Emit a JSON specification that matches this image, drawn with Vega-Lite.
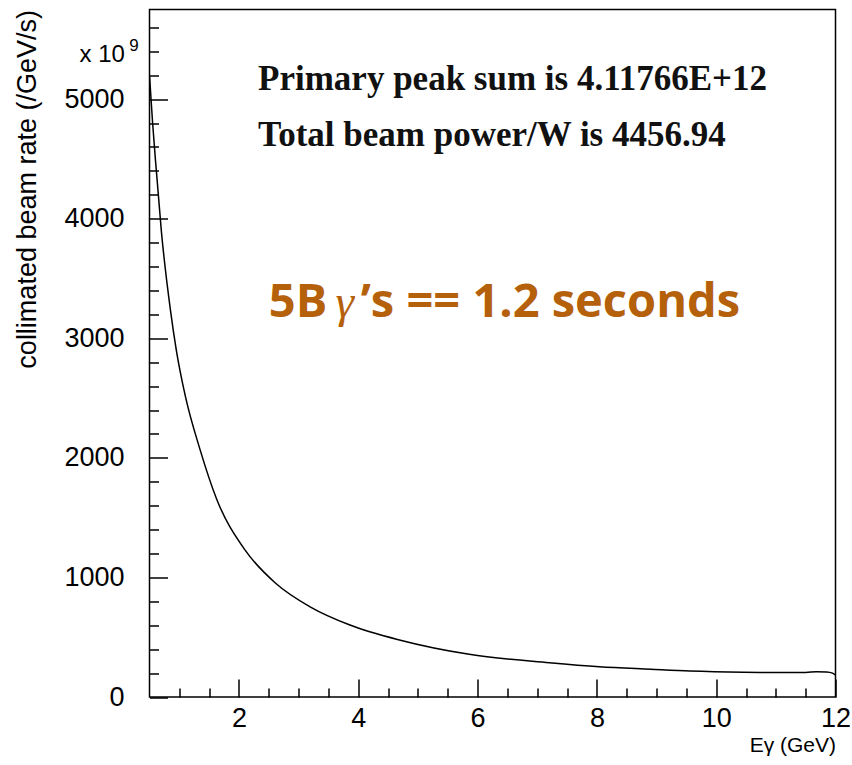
{
  "$schema": "https://vega.github.io/schema/vega-lite/v6.json",
  "autosize": "none",
  "width": 686,
  "height": 687.5,
  "padding": {"left": 149.5, "top": 9.5, "right": 16.5, "bottom": 68},
  "background": "white",
  "config": {
    "view": {"stroke": "black", "strokeWidth": 1.5},
    "font": "Liberation Sans",
    "axis": {"domain": false, "grid": false, "tickColor": "black", "tickWidth": 1.5, "labelColor": "black", "titleColor": "black", "labelFont": "Liberation Sans", "titleFont": "Liberation Sans", "titleFontWeight": "normal", "labelOverlap": false}
  },
  "layer": [
    {
      "data": {"values": [
        {"E": 0.5, "rate": 5200}, {"E": 0.55, "rate": 4815}, {"E": 0.6, "rate": 4490}, {"E": 0.7, "rate": 3890},
        {"E": 0.85, "rate": 3240}, {"E": 0.95, "rate": 2900}, {"E": 1.1, "rate": 2518}, {"E": 1.35, "rate": 2065},
        {"E": 1.63, "rate": 1650}, {"E": 2.1, "rate": 1230}, {"E": 2.6, "rate": 958}, {"E": 3.2, "rate": 752},
        {"E": 3.86, "rate": 602}, {"E": 4.69, "rate": 477}, {"E": 5.86, "rate": 357}, {"E": 7.2, "rate": 287},
        {"E": 8.04, "rate": 253}, {"E": 8.9, "rate": 232}, {"E": 9.56, "rate": 217}, {"E": 10.46, "rate": 207},
        {"E": 11.0, "rate": 205}, {"E": 11.5, "rate": 205}, {"E": 11.68, "rate": 212}, {"E": 11.85, "rate": 210},
        {"E": 11.95, "rate": 200}, {"E": 12.0, "rate": 184}
      ]},
      "mark": {"type": "line", "color": "black", "strokeWidth": 1.5, "interpolate": "monotone", "clip": true},
      "encoding": {
        "x": {"field": "E", "type": "quantitative",
          "scale": {"domain": [0.5, 12], "nice": false, "zero": false},
          "axis": {
            "values": [1, 1.5, 2, 2.5, 3, 3.5, 4, 4.5, 5, 5.5, 6, 6.5, 7, 7.5, 8, 8.5, 9, 9.5, 10, 10.5, 11, 11.5, 12],
            "tickCount": 100,
            "tickSize": {"condition": {"test": "datum.value % 2 === 0", "value": -18}, "value": -9},
            "labelFontSize": {"condition": {"test": "datum.value % 2 === 0", "value": 27}, "value": 0},
            "labelExpr": "datum.value % 2 === 0 ? format(datum.value, 'd') : ''",
            "labelOverlap": false,
            "labelPadding": 26, "labelFlush": false,
            "title": "Eγ (GeV)", "titleAnchor": "end", "titleFontSize": 21, "titlePadding": 3
          }
        },
        "y": {"field": "rate", "type": "quantitative",
          "scale": {"domain": [0, 5750], "nice": false, "zero": false},
          "axis": {
            "values": [0, 200, 400, 600, 800, 1000, 1200, 1400, 1600, 1800, 2000, 2200, 2400, 2600, 2800, 3000, 3200, 3400, 3600, 3800, 4000, 4200, 4400, 4600, 4800, 5000, 5200, 5400, 5600],
            "tickCount": 100,
            "tickSize": {"condition": {"test": "datum.value % 1000 === 0", "value": -18}, "value": -9},
            "labelFontSize": {"condition": {"test": "datum.value % 1000 === 0", "value": 27}, "value": 0},
            "labelExpr": "datum.value % 1000 === 0 ? format(datum.value, 'd') : ''",
            "labelOverlap": false,
            "labelPadding": 43.5,
            "title": "collimated beam rate (/GeV/s)", "titleAnchor": "end", "titleFontSize": 27, "titlePadding": 22
          }
        }
      }
    },
    {
      "data": {"values": [{"label": "Primary peak sum is 4.11766E+12"}]},
      "mark": {"type": "text", "align": "left", "baseline": "alphabetic", "font": "Liberation Serif", "fontWeight": "bold", "fontSize": 35, "color": "#111111"},
      "encoding": {"x": {"datum": 2.32, "type": "quantitative"}, "y": {"datum": 5076, "type": "quantitative"}, "text": {"field": "label"}}
    },
    {
      "data": {"values": [{"label": "Total beam power/W is 4456.94"}]},
      "mark": {"type": "text", "align": "left", "baseline": "alphabetic", "font": "Liberation Serif", "fontWeight": "bold", "fontSize": 35, "color": "#111111"},
      "encoding": {"x": {"datum": 2.32, "type": "quantitative"}, "y": {"datum": 4608, "type": "quantitative"}, "text": {"field": "label"}}
    },
    {
      "data": {"values": [{"label": "5B"}]},
      "mark": {"type": "text", "align": "left", "baseline": "alphabetic", "font": "Open Sans", "fontWeight": "bold", "fontSize": 47, "color": "#B5600A"},
      "encoding": {"x": {"datum": 2.5, "type": "quantitative"}, "y": {"datum": 3178, "type": "quantitative"}, "text": {"field": "label"}}
    },
    {
      "data": {"values": [{"label": "γ"}]},
      "mark": {"type": "text", "align": "left", "baseline": "alphabetic", "font": "Liberation Serif", "fontStyle": "italic", "fontSize": 47, "color": "#B5600A"},
      "encoding": {"x": {"datum": 3.62, "type": "quantitative"}, "y": {"datum": 3178, "type": "quantitative"}, "text": {"field": "label"}}
    },
    {
      "data": {"values": [{"label": "’s == 1.2 seconds"}]},
      "mark": {"type": "text", "align": "left", "baseline": "alphabetic", "font": "Open Sans", "fontWeight": "bold", "fontSize": 47, "color": "#B5600A"},
      "encoding": {"x": {"datum": 4.04, "type": "quantitative"}, "y": {"datum": 3178, "type": "quantitative"}, "text": {"field": "label"}}
    },
    {
      "data": {"values": [{"label": "x 10"}]},
      "mark": {"type": "text", "align": "right", "baseline": "alphabetic", "font": "Liberation Sans", "fontSize": 24, "color": "black"},
      "encoding": {"x": {"datum": 0.089, "type": "quantitative"}, "y": {"datum": 5313, "type": "quantitative"}, "text": {"field": "label"}}
    },
    {
      "data": {"values": [{"label": "9"}]},
      "mark": {"type": "text", "align": "left", "baseline": "alphabetic", "font": "Liberation Sans", "fontSize": 17, "color": "black"},
      "encoding": {"x": {"datum": 0.161, "type": "quantitative"}, "y": {"datum": 5405, "type": "quantitative"}, "text": {"field": "label"}}
    }
  ]
}
